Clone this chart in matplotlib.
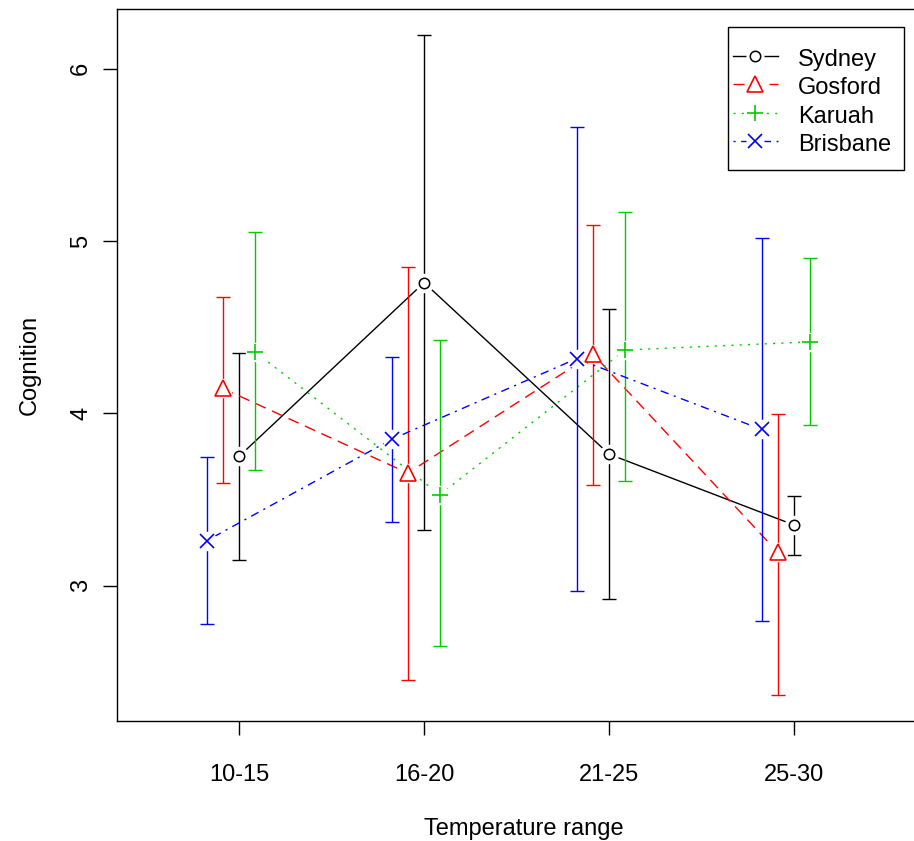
import matplotlib
matplotlib.use("Agg")
import matplotlib.pyplot as plt
from matplotlib.lines import Line2D
from matplotlib.patches import Rectangle
import numpy as np

plt.rcParams['font.family'] = ['Liberation Sans', 'DejaVu Sans']

categories = ["10-15", "16-20", "21-25", "25-30"]
series = ["Sydney", "Gosford", "Karuah", "Brisbane"]

sydney_mean = [3.751, 4.759, 3.764, 3.353]
sydney_hi = [4.349, 6.193, 4.604, 3.523]
sydney_lo = [3.151, 3.326, 2.925, 3.181]

gosford_mean = [4.145, 3.654, 4.345, 3.195]
gosford_hi = [4.673, 4.852, 5.092, 3.996]
gosford_lo = [3.595, 2.452, 3.585, 2.369]

karuah_mean = [4.357, 3.529, 4.368, 4.415]
karuah_hi = [5.051, 4.424, 5.170, 4.903]
karuah_lo = [3.670, 2.649, 3.606, 3.934]

brisbane_mean = [3.262, 3.850, 4.318, 3.907]
brisbane_hi = [3.749, 4.326, 5.662, 5.015]
brisbane_lo = [2.778, 3.369, 2.969, 2.796]

means = [sydney_mean, gosford_mean, karuah_mean, brisbane_mean]
his = [sydney_hi, gosford_hi, karuah_hi, brisbane_hi]
los = [sydney_lo, gosford_lo, karuah_lo, brisbane_lo]

offsets = [0.0, -0.088, 0.086, -0.175]
colors = ["black", "#FF0000", "#00CD00", "#0000FF"]
markers = ["o", "^", "+", "x"]
msizes = [7.5, 11, 12, 10]
mews = [1.1, 1.2, 1.2, 1.2]
dashes = [None, (8, 5), (1.5, 4.5), (1.5, 4, 6, 4)]

FS = 17
W, H = 914, 841
fig = plt.figure(figsize=(W / 100, H / 100), dpi=100)
ax = fig.add_axes([117 / W, 1 - 721 / H, (930 - 117) / W, (721 - 9) / H])

x = np.arange(1, len(categories) + 1)
handles = []
for i, name in enumerate(series):
    xs = x + offsets[i]
    m = np.array(means[i])
    hi = np.array(his[i])
    lo = np.array(los[i])
    yerr = np.vstack([m - lo, hi - m])
    ax.errorbar(xs, m, yerr=yerr, fmt='none', ecolor=colors[i], elinewidth=1.0,
                capsize=5.2, capthick=1.0, zorder=2)
    kw = dict(color=colors[i], lw=1.0, zorder=2)
    if dashes[i] is None:
        ax.plot(xs, m, linestyle='-', **kw)
    else:
        ax.plot(xs, m, linestyle='--', dashes=dashes[i], **kw)
    ax.plot(xs, m, linestyle='none', marker='o', ms=14, mfc='white', mec='none', zorder=3)
    ax.plot(xs, m, linestyle='none', marker=markers[i], ms=msizes[i],
            mfc='none', mec=colors[i], mew=mews[i], zorder=4)
    # legend handle
    if dashes[i] is None:
        h1 = Line2D([], [], color=colors[i], lw=1.0, linestyle='-',
                    marker='o', ms=12, mfc='white', mec='white')
    else:
        h1 = Line2D([], [], color=colors[i], lw=1.0, linestyle='--', dashes=dashes[i],
                    marker='o', ms=12, mfc='white', mec='white')
    h2 = Line2D([], [], linestyle='none', marker=markers[i], ms=msizes[i],
                mfc='none', mec=colors[i], mew=mews[i])
    handles.append((h1, h2))

ax.set_xlim(0.34, 4.735)
ax.set_ylim(2.216, 6.346)
ax.set_xticks(x)
ax.set_xticklabels(categories)
ax.set_yticks([3, 4, 5, 6])
ax.set_yticklabels(["3", "4", "5", "6"], rotation=90, va='center')
ax.tick_params(axis='both', direction='out', length=10, width=1.0, labelsize=FS, colors='black')
ax.tick_params(axis='x', pad=21)
ax.tick_params(axis='y', pad=8)
for sp in ax.spines.values():
    sp.set_linewidth(1.0)

ax.set_xlabel("Temperature range", fontsize=FS, labelpad=23)
ax.set_ylabel("Cognition", fontsize=FS, labelpad=21)

leg = ax.legend(handles, series, loc='upper left', bbox_to_anchor=(733 / W, 1 - 46 / H),
                bbox_transform=fig.transFigure, fontsize=FS, frameon=False,
                borderaxespad=0, handlelength=1.9, handletextpad=0.85,
                labelspacing=0.14, handleheight=1.2, borderpad=0)
leg.set_zorder(7)

fig.canvas.draw()
bb = leg.get_window_extent()
inv = fig.transFigure.inverted()
(fx0, fy0) = inv.transform((bb.x0 - 5, bb.y0 - 14))
(fx1, fy1) = inv.transform((bb.x1 + 13, bb.y1 + 19))
ax.add_patch(Rectangle((fx0, fy0), fx1 - fx0, fy1 - fy0, transform=fig.transFigure,
                       facecolor='white', edgecolor='black', lw=1.0, zorder=6, clip_on=False))

fig.savefig("out.png", dpi=100)
